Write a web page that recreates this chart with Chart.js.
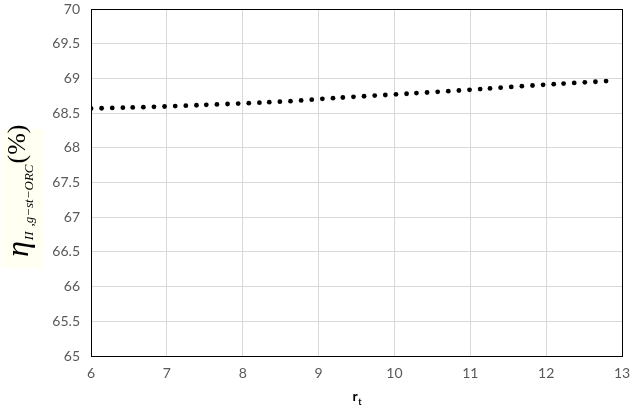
<!DOCTYPE html>
<html>
<head>
<meta charset="utf-8">
<script src="https://cdn.jsdelivr.net/npm/chart.js@4/dist/chart.umd.min.js"></script>
<style>
  html, body { margin: 0; padding: 0; background: #fff; }
  #wrap { width: 640px; height: 411px; position: relative; }
</style>
</head>
<body>
<div id="wrap"><canvas id="effChart"></canvas></div>
<script>
"use strict";

// turbine pressure ratio r_t
const rt = [
  6.00, 6.14, 6.28, 6.42, 6.55, 6.69, 6.83, 6.97, 7.11, 7.25,
  7.39, 7.52, 7.66, 7.80, 7.94, 8.08, 8.22, 8.35, 8.49, 8.63,
  8.77, 8.91, 9.05, 9.19, 9.32, 9.46, 9.60, 9.74, 9.88, 10.02,
  10.16, 10.29, 10.43, 10.57, 10.71, 10.85, 10.99, 11.13, 11.26, 11.40,
  11.54, 11.68, 11.82, 11.96, 12.10, 12.23, 12.37, 12.51, 12.65, 12.79
];

// exergy efficiency (%)
const etaII = [
  68.566, 68.570, 68.574, 68.578, 68.582, 68.586, 68.590, 68.595, 68.601, 68.607,
  68.613, 68.619, 68.625, 68.631, 68.637, 68.643, 68.650, 68.657, 68.665, 68.672,
  68.683, 68.694, 68.706, 68.715, 68.725, 68.734, 68.743, 68.752, 68.761, 68.770,
  68.779, 68.788, 68.797, 68.806, 68.816, 68.826, 68.835, 68.846, 68.856, 68.867,
  68.877, 68.888, 68.898, 68.908, 68.917, 68.926, 68.935, 68.943, 68.952, 68.961
];

const xTicks = [6, 7, 8, 9, 10, 11, 12, 13];
const yTicks = [65, 65.5, 66, 66.5, 67, 67.5, 68, 68.5, 69, 69.5, 70];

const tickFont = { family: "Lato", size: 14 };

// frame round the plot + axis titles (they mix fonts and subscripts)
const extras = {
  id: "extras",
  afterDraw(chart) {
    const ctx = chart.ctx;
    const a = chart.chartArea;
    ctx.save();
    ctx.strokeStyle = "#000";
    ctx.lineWidth = 1;
    ctx.strokeRect(Math.round(a.left) + 0.5, Math.round(a.top) + 0.5,
                   Math.round(a.right - a.left), Math.round(a.bottom - a.top));

    // x title: r with subscript t
    const cx = (a.left + a.right) / 2;
    ctx.fillStyle = "#000";
    ctx.textBaseline = "alphabetic";
    ctx.font = "bold 14px Lato";
    const rw = ctx.measureText("r").width;
    ctx.fillText("r", cx - 4, 401);
    ctx.font = "bold 9px Lato";
    ctx.fillText("t", cx - 4 + rw + 0.5, 405);

    // y title: eta_II,g-st-ORC (%)
    ctx.fillStyle = "#fffff2";
    ctx.fillRect(1, 129, 42, 139);
    ctx.translate(28, 257);
    ctx.rotate(-Math.PI / 2);
    ctx.fillStyle = "#000";
    ctx.font = "italic 32px 'Liberation Serif'";
    ctx.fillText("\u03B7", 0, 0);
    let x = ctx.measureText("\u03B7").width + 1;
    ctx.font = "italic 13px 'Liberation Serif'";
    ctx.fillText("II", x, 5);
    x += ctx.measureText("II").width + 5;
    ctx.fillText(",g\u2212st\u2212ORC", x, 5);
    x += ctx.measureText(",g\u2212st\u2212ORC").width + 1;
    ctx.font = "26px 'Liberation Serif'";
    ctx.fillText("(%)", x, -3);
    ctx.restore();
  }
};

new Chart(document.getElementById("effChart"), {
  type: "scatter",
  data: {
    datasets: [{
      data: rt.map((v, i) => ({ x: v, y: etaII[i] })),
      backgroundColor: "#000",
      borderColor: "#000",
      pointRadius: 2.4,
      pointHoverRadius: 2.4,
      borderWidth: 0
    }]
  },
  options: {
    responsive: true,
    maintainAspectRatio: false,
    animation: false,
    devicePixelRatio: 1,
    layout: { padding: { top: 9, right: 18, left: 0, bottom: 0 } },
    plugins: { legend: { display: false }, tooltip: { enabled: false } },
    scales: {
      x: {
        type: "linear",
        min: 6, max: 13,
        afterBuildTicks: s => { s.ticks = xTicks.map(v => ({ value: v })); },
        afterFit: s => { s.height = 55; s.paddingLeft = 0; s.paddingRight = 0; },
        grid: { color: "#d9d9d9", drawTicks: false },
        border: { display: false },
        ticks: { color: "#595959", font: tickFont, padding: 9, callback: v => String(v) }
      },
      y: {
        min: 65, max: 70,
        afterBuildTicks: s => { s.ticks = yTicks.map(v => ({ value: v })); },
        afterFit: s => { s.width = 91; s.paddingTop = 0; s.paddingBottom = 0; },
        grid: { color: "#d9d9d9", drawTicks: false },
        border: { display: false },
        ticks: { color: "#595959", font: tickFont, padding: 11, callback: v => String(v) }
      }
    }
  },
  plugins: [extras]
});
</script>
</body>
</html>
